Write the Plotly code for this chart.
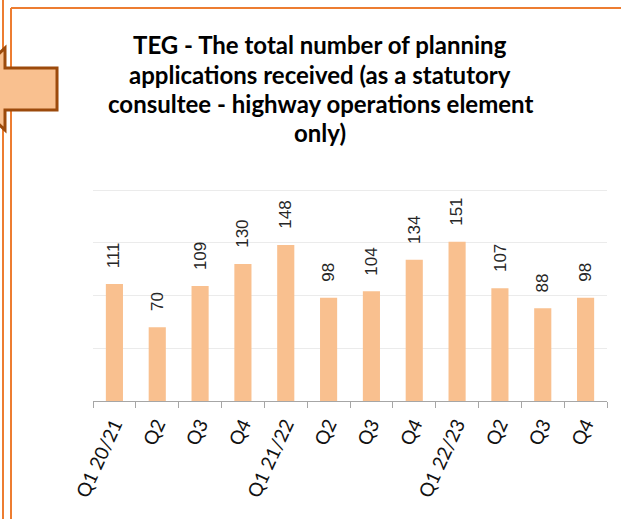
import plotly.graph_objects as go

# quarters and counts
quarters = ["Q1 20/21", "Q2", "Q3", "Q4",
            "Q1 21/22", "Q2", "Q3", "Q4",
            "Q1 22/23", "Q2", "Q3", "Q4"]
applications = [111, 70, 109, 130, 148, 98, 104, 134, 151, 107, 88, 98]

title_lines = ["TEG - The total number of planning",
               "applications received (as a statutory",
               "consultee - highway operations element",
               "only)"]

W, H = 621, 519
L, R, T, B = 93, 14, 189, 118
BAR = "#F9C08F"
ORANGE = "#ED7D31"
BROWN = "#9C4A0C"


# pixel -> paper helpers, used for the decorative frame, arrow and title
def px(x):
    return (x - L) / (W - L - R)


def py(y):
    return (H - B - y) / (H - T - B)


xs = list(range(len(quarters)))

fig = go.Figure()
fig.add_trace(go.Bar(
    x=xs,
    y=applications,
    marker=dict(color=BAR, line=dict(width=0)),
    hoverinfo="skip",
))

# value labels above bars
for i, v in zip(xs, applications):
    fig.add_annotation(
        x=i, y=v, text=str(v), textangle=-90,
        xref="x", yref="y", showarrow=False,
        yanchor="bottom", yshift=14,
        font=dict(family="Liberation Sans, Arial", size=17, color="#262626"),
    )

# title, one line per annotation so the line spacing matches
for k, line in enumerate(title_lines):
    fig.add_annotation(
        x=px(320), y=py(45 + 29.3 * k), xref="paper", yref="paper",
        text="<b>" + line + "</b>", showarrow=False,
        xanchor="center", yanchor="middle",
        font=dict(family="Lato", size=24, color="#000000"),
    )

# orange frame lines
frame = [((3, 0), (3, H)), ((11, 8), (11, H)), ((11, 8), (W, 8))]
for (x0, y0), (x1, y1) in frame:
    fig.add_shape(type="line", xref="paper", yref="paper",
                  x0=px(x0), y0=py(y0), x1=px(x1), y1=py(y1),
                  line=dict(color=ORANGE, width=2), layer="above")

# left-pointing arrow (tip cut off by the edge)
pts = [(-10, 62), (5, 48), (5, 68), (57, 68), (57, 110), (5, 110), (5, 130), (-10, 116)]
path = "M " + " L ".join("%.4f,%.4f" % (px(a), py(b)) for a, b in pts) + " Z"
fig.add_shape(type="path", xref="paper", yref="paper", path=path,
              fillcolor=BAR, line=dict(color=BROWN, width=3), layer="above")

fig.update_layout(
    width=W, height=H,
    margin=dict(l=L, r=R, t=T, b=B),
    paper_bgcolor="white",
    plot_bgcolor="white",
    showlegend=False,
    bargap=0.6,
    xaxis=dict(
        range=[-0.5, len(quarters) - 0.5],
        tickmode="array", tickvals=xs, ticktext=quarters,
        tickangle=-65,
        ticks="",
        ticklabelstandoff=4,
        automargin=False,
        showline=True, linecolor="#A6A6A6", linewidth=1,
        showgrid=False, zeroline=False,
        minor=dict(ticks="outside", tickmode="linear", tick0=-0.5, dtick=1,
                   ticklen=6, tickcolor="#A6A6A6", tickwidth=1, showgrid=False),
        tickfont=dict(family="Lato", size=19, color="#111111"),
    ),
    yaxis=dict(
        range=[0, 201], tickmode="linear", tick0=0, dtick=50,
        showticklabels=False, ticks="",
        automargin=False,
        showgrid=True, gridcolor="#EBEBEB", gridwidth=1,
        zeroline=False, showline=False,
    ),
)

# drop the default body margin so the figure sits at the window's corner
fig.write_html("out.html", config={"displayModeBar": False},
               post_script="document.body.style.margin='0';")
